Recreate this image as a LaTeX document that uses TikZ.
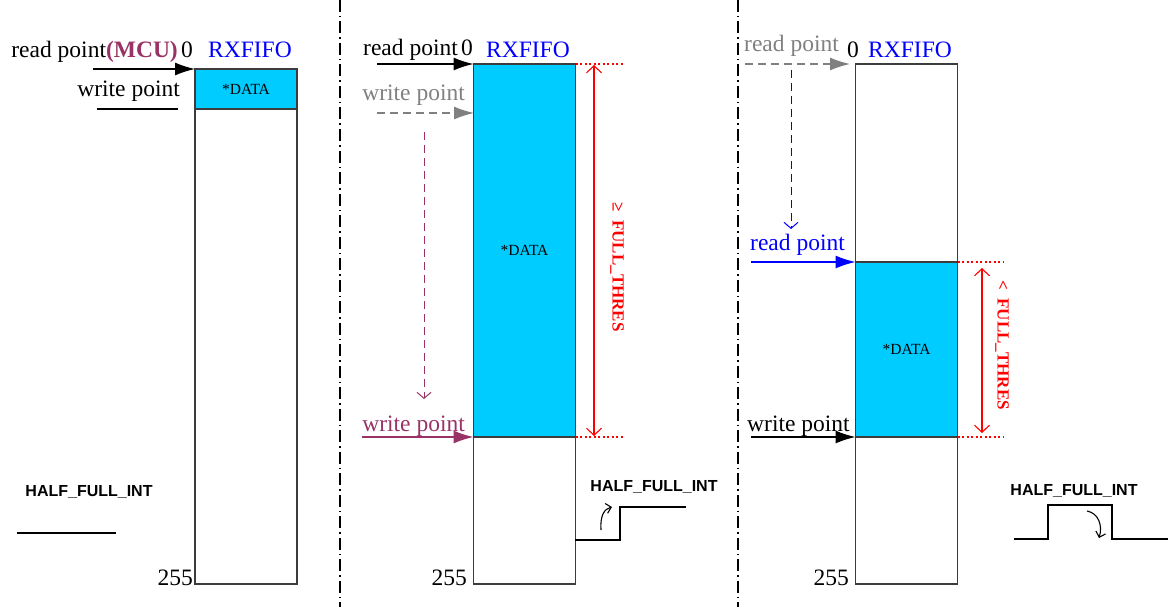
\documentclass[tikz,border=0pt]{standalone}
\usepackage{fontspec}
\setmainfont{Liberation Serif}
\setsansfont{Liberation Sans}
\usepackage{xcolor}
\usepackage{tikz}
\usetikzlibrary{
	arrows.meta,
	calc,
	positioning
}
\definecolor{FifoCyan}{RGB}{0,204,255}
\definecolor{McuPurple}{RGB}{153,51,102}
\definecolor{PtrGray}{RGB}{128,128,128}
\definecolor{BoxGray}{RGB}{60,60,60}

\tikzset{
	fifo/.style={draw=BoxGray, line width=1.1pt, minimum width=102pt, inner sep=0pt, outer sep=0pt},
	cell/.style={fifo, fill=FifoCyan, font=\fontsize{15.5}{17}\selectfont},
	lbl/.style={font=\fontsize{23.5}{26}\selectfont, inner sep=0pt},
	sig/.style={font=\fontsize{16}{18}\selectfont\sffamily\bfseries, inner sep=0pt},
	thres/.style={font=\fontsize{17}{19}\selectfont\bfseries, text=red, rotate=-90, inner sep=0pt},
	ptr/.style={line width=1.3pt, -{Latex[length=20pt,width=13pt]}},
	walk/.style={line width=1pt, dash pattern=on 8pt off 5pt, -{Straight Barb[length=6pt,width=14pt]}},
	thresspan/.style={red, line width=1.1pt, {Straight Barb[length=7pt,width=15pt]}-{Straight Barb[length=7pt,width=15pt]}},
	limit/.style={red, line width=1.2pt, dash pattern=on 2pt off 2.5pt},
	wave/.style={line width=1.3pt},
	flip/.style={line width=1.1pt, -{Straight Barb[length=5pt,width=10pt]}},
	divider/.style={line width=1.1pt, dash pattern=on 12pt off 4pt on 1.5pt off 4pt}
}

\begin{document}
\begin{tikzpicture}[x=1pt, y=-1pt]
	\useasboundingbox (0,0) rectangle (1169,607);
	% dividers
	\coordinate (divAtop) at (340,0);
	\coordinate (divAbot) at (340,607);
	\coordinate (divBtop) at (738,0);
	\coordinate (divBbot) at (738,607);
	\draw[divider] (divAtop) -- (divAbot);
	\draw[divider] (divBtop) -- (divBbot);

	% panel 1: empty fifo
	\node[fifo, minimum height=515pt] (fifoA) at (246,326.5) {};
	\node[cell, minimum height=40pt, anchor=north] (dataA) at (fifoA.north) {*DATA};
	\node[lbl, text=blue, anchor=base] (nameA) at (250,58) {RXFIFO};
	\node[lbl, anchor=base] (zeroA) at (187,58) {0};
	\node[lbl, anchor=base east] (readA) at (178,58) {read point\textcolor{McuPurple}{\bfseries(MCU)}};
	\node[lbl, anchor=base east] (writeA) at (180,97) {write point};
	\node[lbl, anchor=base east] (endA) at (193,585) {255};
	\node[sig] (intA) at (89,492) {HALF\_FULL\_INT};
	\coordinate (rpA) at (93,69);
	\coordinate (wpAa) at (97,109);
	\coordinate (wpAb) at (178,109);
	\coordinate (waveAa) at (17,533);
	\coordinate (waveAb) at (116,533);
	\draw[ptr] (rpA) -- (fifoA.north west);
	\draw[line width=1.3pt] (wpAa) -- (wpAb);
	\draw[wave] (waveAa) -- (waveAb);

	% panel 2: fifo filled past the threshold
	\node[fifo, minimum height=520pt] (fifoB) at (524.5,324) {};
	\node[cell, minimum height=373pt, anchor=north] (dataB) at (fifoB.north) {*DATA};
	\node[lbl, text=blue, anchor=base] (nameB) at (528,58) {RXFIFO};
	\node[lbl, anchor=base] (zeroB) at (467,56) {0};
	\node[lbl, anchor=base east] (readB) at (458,56) {read point};
	\node[lbl, text=PtrGray, anchor=base east] (oldwB) at (465,101) {write point};
	\node[lbl, text=McuPurple, anchor=base east] (writeB) at (465,431) {write point};
	\node[lbl, anchor=base east] (endB) at (467,585) {255};
	\node[thres] (thrB) at (617,267) {≥\ \ FULL\_THRES};
	\node[sig] (intB) at (654,487) {HALF\_FULL\_INT};
	\coordinate (rpB) at (377,64);
	\coordinate (owB) at (377,113);
	\coordinate (owBend) at (474,113);
	\coordinate (mvBa) at (424,132);
	\coordinate (mvBb) at (424,399);
	\coordinate (wpB) at (362,437);
	\coordinate (limBtop) at (623,64);
	\coordinate (limBbot) at (623,437);
	\coordinate (spBtop) at (594,65);
	\coordinate (spBbot) at (594,436);
	\draw[ptr] (rpB) -- (fifoB.north west);
	\draw[ptr, PtrGray, dash pattern=on 8pt off 5pt] (owB) -- (owBend);
	\draw[walk, McuPurple] (mvBa) -- (mvBb);
	\draw[ptr, McuPurple] (wpB) -- (dataB.south west);
	\draw[limit] (fifoB.north east) -- (limBtop);
	\draw[limit] (dataB.south east) -- (limBbot);
	\draw[thresspan] (spBtop) -- (spBbot);
	\coordinate (waveBa) at (575,540);
	\coordinate (waveBb) at (686,507);
	\draw[wave] (waveBa) -| (620,507) -- (waveBb);
	\coordinate (flipBa) at (601,530);
	\coordinate (flipBb) at (612,507);
	\draw[flip] (flipBa) .. controls (600,516) and (604,509) .. (flipBb);

	% panel 3: reader catches up, below the threshold
	\node[fifo, minimum height=520pt] (fifoC) at (906.5,324) {};
	\node[cell, minimum height=175pt] (dataC) at (906.5,349.5) {*DATA};
	\node[lbl, text=blue, anchor=base] (nameC) at (910,58) {RXFIFO};
	\node[lbl, anchor=base] (zeroC) at (853,58) {0};
	\node[lbl, text=PtrGray, anchor=base west] (oldrC) at (744,52) {read point};
	\node[lbl, text=blue, anchor=base west] (readC) at (750,250) {read point};
	\node[lbl, anchor=base west] (writeC) at (747,431) {write point};
	\node[lbl, anchor=base east] (endC) at (849,585) {255};
	\node[thres] (thrC) at (1002,345) {<\ \ FULL\_THRES};
	\node[sig] (intC) at (1074,491) {HALF\_FULL\_INT};
	\coordinate (orC) at (745,64);
	\coordinate (orCend) at (850,64);
	\coordinate (mvCa) at (791,70);
	\coordinate (mvCb) at (791,229);
	\coordinate (rpC) at (751,262);
	\coordinate (wpC) at (751,437);
	\coordinate (limCtop) at (1003,262);
	\coordinate (limCbot) at (1003,437);
	\coordinate (spCtop) at (982,268);
	\coordinate (spCbot) at (982,433);
	\draw[ptr, PtrGray, dash pattern=on 8pt off 5pt] (orC) -- (orCend);
	\draw[walk, blue] (mvCa) -- (mvCb);
	\draw[ptr, blue] (rpC) -- (dataC.north west);
	\draw[ptr] (wpC) -- (dataC.south west);
	\draw[limit] (dataC.north east) -- (limCtop);
	\draw[limit] (dataC.south east) -- (limCbot);
	\draw[thresspan] (spCtop) -- (spCbot);
	\coordinate (waveCa) at (1014,539);
	\coordinate (waveCb) at (1168,539);
	\draw[wave] (waveCa) -| (1048,505) -| (1112,539) -- (waveCb);
	\coordinate (flipCa) at (1087,511);
	\coordinate (flipCb) at (1099,538);
	\draw[flip] (flipCa) .. controls (1098,513) and (1103,525) .. (flipCb);
\end{tikzpicture}
\end{document}
